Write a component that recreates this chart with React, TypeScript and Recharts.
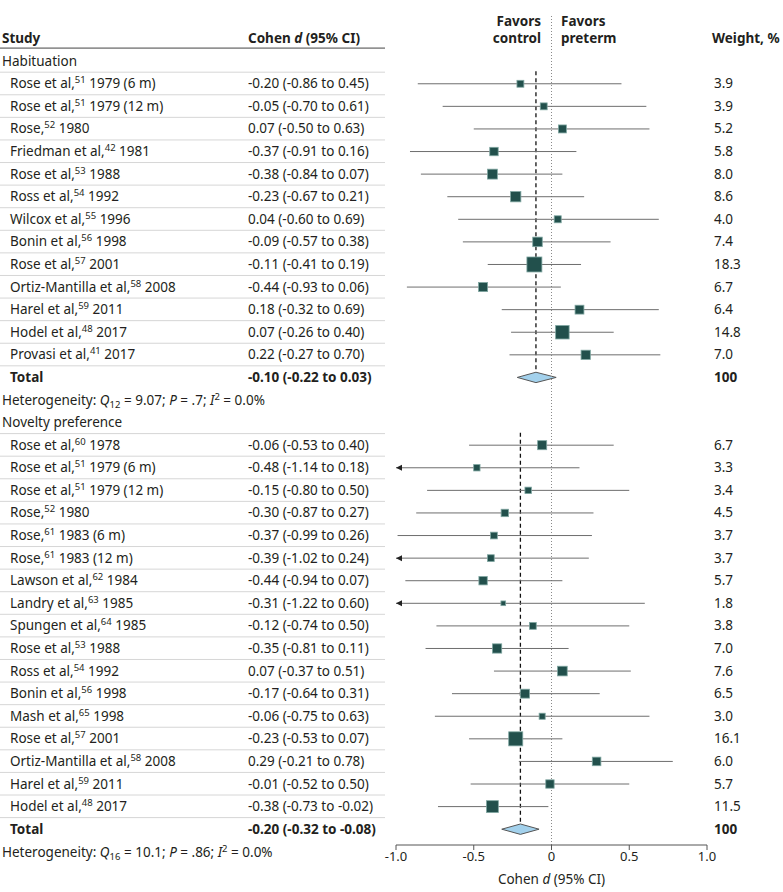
import React from 'react';
import { ComposedChart, Scatter, Area, XAxis, YAxis, ReferenceLine, ErrorBar } from 'recharts';

const FONT = '"Noto Sans", "Open Sans", sans-serif';
const TEXT = '#231f20';
const FS = 13.5;

// Habituation
const habAuthors = ['Rose et al,', 'Rose et al,', 'Rose,', 'Friedman et al,', 'Rose et al,', 'Ross et al,', 'Wilcox et al,', 'Bonin et al,', 'Rose et al,', 'Ortiz-Mantilla et al,', 'Harel et al,', 'Hodel et al,', 'Provasi et al,'];
const habRefs = ['51', '51', '52', '42', '53', '54', '55', '56', '57', '58', '59', '48', '41'];
const habYears = ['1979 (6 m)', '1979 (12 m)', '1980', '1981', '1988', '1992', '1996', '1998', '2001', '2008', '2011', '2017', '2017'];
const habD = [-0.20, -0.05, 0.07, -0.37, -0.38, -0.23, 0.04, -0.09, -0.11, -0.44, 0.18, 0.07, 0.22];
const habLow = [-0.86, -0.70, -0.50, -0.91, -0.84, -0.67, -0.60, -0.57, -0.41, -0.93, -0.32, -0.26, -0.27];
const habHigh = [0.45, 0.61, 0.63, 0.16, 0.07, 0.21, 0.69, 0.38, 0.19, 0.06, 0.69, 0.40, 0.70];
const habWeight = [3.9, 3.9, 5.2, 5.8, 8.0, 8.6, 4.0, 7.4, 18.3, 6.7, 6.4, 14.8, 7.0];
const habTotal = { d: -0.10, low: -0.22, high: 0.03 };
const habHet = { df: '12', q: '9.07', p: '.7', i2: '0.0%' };

// Novelty preference
const novAuthors = ['Rose et al,', 'Rose et al,', 'Rose et al,', 'Rose,', 'Rose,', 'Rose,', 'Lawson et al,', 'Landry et al,', 'Spungen et al,', 'Rose et al,', 'Ross et al,', 'Bonin et al,', 'Mash et al,', 'Rose et al,', 'Ortiz-Mantilla et al,', 'Harel et al,', 'Hodel et al,'];
const novRefs = ['60', '51', '51', '52', '61', '61', '62', '63', '64', '53', '54', '56', '65', '57', '58', '59', '48'];
const novYears = ['1978', '1979 (6 m)', '1979 (12 m)', '1980', '1983 (6 m)', '1983 (12 m)', '1984', '1985', '1985', '1988', '1992', '1998', '1998', '2001', '2008', '2011', '2017'];
const novD = [-0.06, -0.48, -0.15, -0.30, -0.37, -0.39, -0.44, -0.31, -0.12, -0.35, 0.07, -0.17, -0.06, -0.23, 0.29, -0.01, -0.38];
const novLow = [-0.53, -1.14, -0.80, -0.87, -0.99, -1.02, -0.94, -1.22, -0.74, -0.81, -0.37, -0.64, -0.75, -0.53, -0.21, -0.52, -0.73];
const novHigh = [0.40, 0.18, 0.50, 0.27, 0.26, 0.24, 0.07, 0.60, 0.50, 0.11, 0.51, 0.31, 0.63, 0.07, 0.78, 0.50, -0.02];
const novWeight = [6.7, 3.3, 3.4, 4.5, 3.7, 3.7, 5.7, 1.8, 3.8, 7.0, 7.6, 6.5, 3.0, 16.1, 6.0, 5.7, 11.5];
const novTotal = { d: -0.20, low: -0.32, high: -0.08 };
const novHet = { df: '16', q: '10.1', p: '.86', i2: '0.0%' };

const xTicks = [-1, -0.5, 0, 0.5, 1];
const X_MIN = -1;

const fmt = (v: number) => v.toFixed(2);
const ci = (d: number, lo: number, hi: number) => `${fmt(d)} (${fmt(lo)} to ${fmt(hi)})`;

function buildSection(title: string, start: number, authors: string[], refs: string[], years: string[],
  d: number[], low: number[], high: number[], w: number[], total: any, het: any) {
  const text: any[] = [{ kind: 'section', x: 0, y: start, label: title }];
  const studies: any[] = [];
  const arrows: any[] = [];
  authors.forEach((a, i) => {
    const y = start + 1 + i;
    text.push({ kind: 'study', x: 0, y, author: a, ref: refs[i], year: years[i], ci: ci(d[i], low[i], high[i]), w: w[i].toFixed(1) });
    studies.push({ x: d[i], y, w: w[i], err: [d[i] - Math.max(low[i], X_MIN), high[i] - d[i]] });
    if (low[i] < X_MIN) arrows.push({ x: X_MIN, y });
  });
  const totalRow = start + 1 + authors.length;
  text.push({ kind: 'total', x: 0, y: totalRow, ci: ci(total.d, total.low, total.high), het });
  const h = 0.23;
  const diamond = [
    { x: total.low, y: [totalRow, totalRow] },
    { x: total.d, y: [totalRow - h, totalRow + h] },
    { x: total.high, y: [totalRow, totalRow] },
  ];
  const dash = [{ x: total.d, y: start + 0.45 }, { x: total.d, y: totalRow - h }];
  return { text, studies, arrows, diamond, dash };
}

const hab = buildSection('Habituation', 1, habAuthors, habRefs, habYears, habD, habLow, habHigh, habWeight, habTotal, habHet);
const nov = buildSection('Novelty preference', 17, novAuthors, novRefs, novYears, novD, novLow, novHigh, novWeight, novTotal, novHet);

const textRows = [{ kind: 'header', x: 0, y: 0 }, ...hab.text, ...nov.text];
const studyRows = [...hab.studies, ...nov.studies];
const arrowRows = [...hab.arrows, ...nov.arrows];

const COL_NAME = 10;
const COL_CI = 248;
const COL_W = 714;
const LINE_END = 385;

const RowText = (props: any) => {
  const { cy, payload: p } = props;
  const base = cy + 4.5;
  const common = { fontFamily: FONT, fontSize: FS, fill: TEXT };
  if (p.kind === 'header') {
    return (
      <g>
        <text x={2} y={base} {...common} fontWeight="bold">Study</text>
        <text x={COL_CI} y={base} {...common} fontWeight="bold">Cohen <tspan fontStyle="italic">d</tspan> (95% CI)</text>
        <text x={541} y={base - 17} {...common} fontWeight="bold" textAnchor="end">Favors</text>
        <text x={541} y={base} {...common} fontWeight="bold" textAnchor="end">control</text>
        <text x={561} y={base - 17} {...common} fontWeight="bold">Favors</text>
        <text x={561} y={base} {...common} fontWeight="bold">preterm</text>
        <text x={712} y={base} {...common} fontWeight="bold">Weight, %</text>
        <line x1={0} x2={LINE_END} y1={cy + 9.5} y2={cy + 9.5} stroke="#444" strokeWidth={1} />
      </g>
    );
  }
  if (p.kind === 'section') {
    return (
      <g>
        <text x={2} y={base} {...common}>{p.label}</text>
        <line x1={0} x2={LINE_END} y1={cy + 11} y2={cy + 11} stroke="#d6d6d6" strokeWidth={1} />
      </g>
    );
  }
  if (p.kind === 'study') {
    return (
      <g>
        <text x={COL_NAME} y={base} {...common}>
          <tspan>{p.author}</tspan>
          <tspan fontSize={9.5} dy={-5}>{p.ref}</tspan>
          <tspan dy={5}> {p.year}</tspan>
        </text>
        <text x={COL_CI} y={base} {...common}>{p.ci}</text>
        <text x={COL_W} y={base} {...common}>{p.w}</text>
        <line x1={0} x2={LINE_END} y1={cy + 11} y2={cy + 11} stroke="#d6d6d6" strokeWidth={1} />
      </g>
    );
  }
  const het = p.het;
  const hy = base + 23;
  return (
    <g>
      <text x={COL_NAME} y={base} {...common} fontWeight="bold">Total</text>
      <text x={COL_CI} y={base} {...common} fontWeight="bold">{p.ci}</text>
      <text x={COL_W} y={base} {...common} fontWeight="bold">100</text>
      <text x={2} y={hy} {...common}>
        Heterogeneity: <tspan fontStyle="italic">Q</tspan>
        <tspan fontSize={9.5} dy={3}>{het.df}</tspan>
        <tspan dy={-3}> = {het.q}; </tspan>
        <tspan fontStyle="italic">P</tspan>
        <tspan> = {het.p}; </tspan>
        <tspan fontStyle="italic">I</tspan>
        <tspan fontSize={9.5} dy={-5}>2</tspan>
        <tspan dy={5}> = {het.i2}</tspan>
      </text>
    </g>
  );
};

const StudySquare = (props: any) => {
  const { cx, cy, payload } = props;
  const s = 3.5 * Math.sqrt(payload.w);
  return <rect x={cx - s / 2} y={cy - s / 2} width={s} height={s} fill="#22504c" stroke="#7fa6a1" strokeWidth={0.8} />;
};

const ArrowHead = (props: any) => {
  const { cx, cy } = props;
  return <polygon points={`${cx},${cy} ${cx + 6},${cy - 3} ${cx + 6},${cy + 3}`} fill="#222" />;
};

const AxisTitle = (props: any) => {
  const vb = props.viewBox || { x: 396, y: 845, width: 311, height: 47 };
  return (
    <text x={vb.x + vb.width / 2} y={vb.y + 39} textAnchor="middle" fontFamily={FONT} fontSize={FS} fill={TEXT}>
      Cohen <tspan fontStyle="italic">d</tspan> (95% CI)
    </text>
  );
};

export default function App() {
  return (
    <div style={{ position: 'absolute', left: 0, top: 0, background: '#fff' }}>
      <ComposedChart width={783} height={892} margin={{ top: 16, right: 76, bottom: 0, left: 396 }}>
        <XAxis
          type="number"
          dataKey="x"
          domain={[-1, 1]}
          ticks={xTicks}
          tickFormatter={(v: number) => (v === 0 ? '0' : v.toFixed(1))}
          tick={{ fontSize: 13, fill: TEXT, fontFamily: FONT }}
          tickLine={{ stroke: '#555' }}
          axisLine={{ stroke: '#555' }}
          tickSize={5}
          height={47}
          label={<AxisTitle />}
        />
        <YAxis type="number" dataKey="y" domain={[-1, 35.7]} reversed hide />
        <ReferenceLine x={0} stroke="#8a8a8a" strokeDasharray="1 2" />
        <ReferenceLine segment={hab.dash} stroke="#111" strokeDasharray="4 3" strokeWidth={1.3} />
        <ReferenceLine segment={nov.dash} stroke="#111" strokeDasharray="4 3" strokeWidth={1.3} />
        <Scatter data={textRows} shape={<RowText />} isAnimationActive={false} />
        <Scatter data={studyRows} shape={<StudySquare />} isAnimationActive={false}>
          <ErrorBar dataKey="err" direction="x" width={0} stroke="#6e6e6e" strokeWidth={1} isAnimationActive={false} />
        </Scatter>
        <Scatter data={arrowRows} shape={<ArrowHead />} isAnimationActive={false} />
        <Area data={hab.diamond} dataKey="y" type="linear" fill="#a3d1ec" fillOpacity={1} stroke="#555" strokeWidth={1} dot={false} activeDot={false} isAnimationActive={false} />
        <Area data={nov.diamond} dataKey="y" type="linear" fill="#a3d1ec" fillOpacity={1} stroke="#555" strokeWidth={1} dot={false} activeDot={false} isAnimationActive={false} />
      </ComposedChart>
    </div>
  );
}
